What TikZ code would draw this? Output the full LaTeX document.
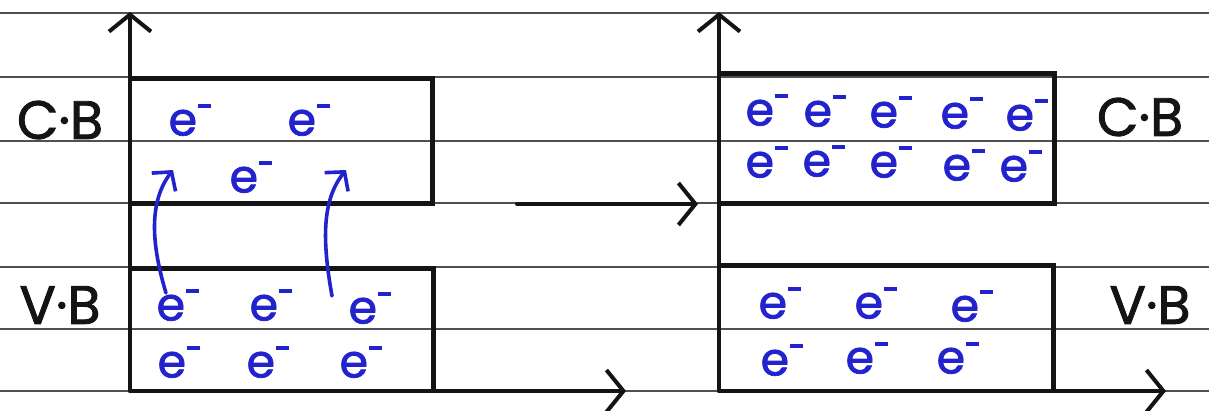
\documentclass[tikz,border=0pt]{standalone}
\usepackage{fontspec}
\setmainfont{Poppins}
\newfontfamily\marker{Poppins}[FakeBold=1.6]
\usetikzlibrary{arrows.meta}
\definecolor{ink}{RGB}{20,20,20}
\definecolor{pen}{RGB}{35,35,205}
\definecolor{rule}{RGB}{80,80,80}
% electron symbol: e with a raised bar
\newcommand\elec{e\kern0.5pt\rule[0.6em]{0.3em}{0.08em}}
\tikzset{
  paper/.style={draw=rule, line width=1.6pt},
  band/.style={draw=ink, line width=5pt, line join=miter},
  axis/.style={draw=ink, line width=4pt, line cap=round, -{Straight Barb[length=17pt,width=42pt,line width=4pt]}},
  jump/.style={draw=pen, line width=3.6pt, line cap=round, -{Straight Barb[length=13pt,width=30pt,line width=3.6pt]}},
  el/.style={text=pen, inner sep=0pt, font=\marker\fontsize{46}{46}\selectfont},
  lbl/.style={text=ink, inner sep=0pt, font=\marker\fontsize{54}{54}\selectfont}
}
\begin{document}
\begin{tikzpicture}[x=1pt,y=-1pt]
\useasboundingbox (0,0) rectangle (1209,410);
\fill[white] (0,0) rectangle (1209,410);
% ruled paper
\foreach \yy in {13,77,141,203,267,329,391}
  \draw[paper] (0,\yy) -- (1209,\yy);

% ---------- left diagram ----------
\coordinate (LO) at (130,391);
\coordinate (LY) at (130,12);
\coordinate (LX) at (626,391);
\draw[axis] (LO) -- (LY);
\draw[axis] (LO) -- (LX);
\draw[band] (130,78) -| (432,203) -- (130,203);
\draw[band] (130,268) -| (433,391);

\node[lbl] (lcb) at (60,120) {C·B};
\node[lbl] (lvb) at (60,305) {V·B};

\node[el] (c1) at (190,120) {\elec};
\node[el] (c2) at (309,120) {\elec};
\node[el] (c3) at (251,177) {\elec};

\node[el] (v1) at (178,305) {\elec};
\node[el] (v2) at (271,305) {\elec};
\node[el] (v3) at (370,308) {\elec};
\node[el] (v4) at (179,362) {\elec};
\node[el] (v5) at (268,362) {\elec};
\node[el] (v6) at (361,362) {\elec};

\coordinate (t1) at (173,170);
\coordinate (t2) at (346,170);
\draw[jump] ([xshift=-12pt,yshift=-4pt]v1.north) .. controls (150,240) and (150,200) .. (t1);
\draw[jump] ([xshift=-38pt,yshift=-4pt]v3.north) .. controls (322,240) and (322,200) .. (t2);

% ---------- transition arrow ----------
\coordinate (ma) at (517,204);
\coordinate (mb) at (698,204);
\draw[axis] (ma) -- (mb);

% ---------- right diagram ----------
\coordinate (RO) at (719,391);
\coordinate (RY) at (719,12);
\coordinate (RX) at (1166,391);
\draw[axis] (RO) -- (RY);
\draw[axis] (RO) -- (RX);
\draw[band] (719,73) -| (1054,203) -- (719,203);
\draw[band] (719,265) -| (1053,391);

\node[lbl] (rcb) at (1140,117) {C·B};
\node[lbl] (rvb) at (1150,305) {V·B};

\node[el] (r1) at (767,110) {\elec};
\node[el] (r2) at (825,111) {\elec};
\node[el] (r3) at (891,112) {\elec};
\node[el] (r4) at (962,113) {\elec};
\node[el] (r5) at (1027,115) {\elec};
\node[el] (r6) at (767,162) {\elec};
\node[el] (r7) at (824,161) {\elec};
\node[el] (r8) at (891,162) {\elec};
\node[el] (r9) at (964,165) {\elec};
\node[el] (r10) at (1021,166) {\elec};

\node[el] (s1) at (780,303) {\elec};
\node[el] (s2) at (876,303) {\elec};
\node[el] (s3) at (972,306) {\elec};
\node[el] (s4) at (782,360) {\elec};
\node[el] (s5) at (867,358) {\elec};
\node[el] (s6) at (958,358) {\elec};
\end{tikzpicture}
\end{document}
